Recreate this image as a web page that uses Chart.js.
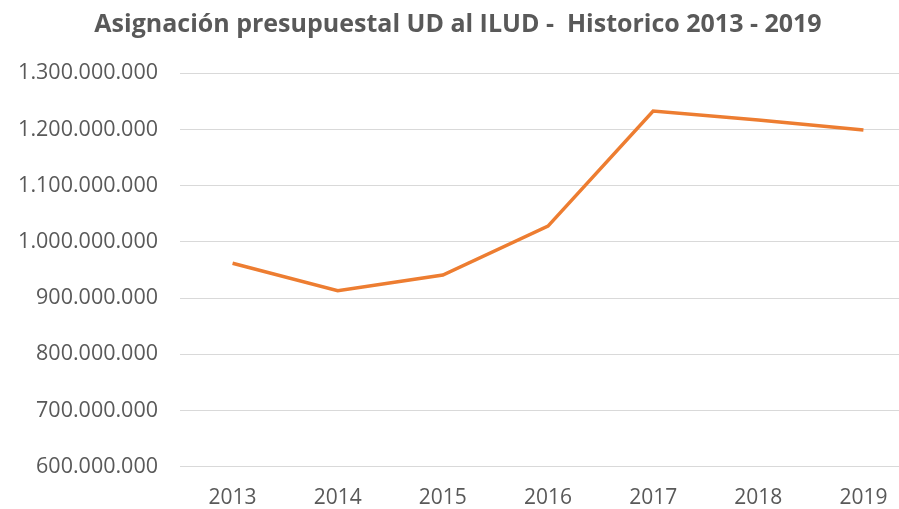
<!DOCTYPE html>
<html>
<head>
<meta charset="utf-8">
<script src="https://cdn.jsdelivr.net/npm/chart.js@4"></script>
<style>
    html, body { margin: 0; padding: 0; background: #fff; overflow: hidden; }
    #wrap { width: 916px; height: 509px; position: relative; }
</style>
</head>
<body>
<div id="wrap"><canvas id="chart"></canvas></div>
<script>
const years = ['2013', '2014', '2015', '2016', '2017', '2018', '2019'];
const budget = [962000000, 913000000, 941000000, 1028000000, 1233000000, 1217000000, 1199000000];
const yTicks = [600000000, 700000000, 800000000, 900000000, 1000000000, 1100000000, 1200000000, 1300000000];

const textColor = '#595959';

function fmt(v) {
    return String(v).replace(/\B(?=(\d{3})+(?!\d))/g, '.');
}

new Chart(document.getElementById('chart').getContext('2d'), {
    type: 'line',
    data: {
        labels: years,
        datasets: [{
            data: budget,
            borderColor: '#ED7D31',
            borderWidth: 3.5,
            pointRadius: 0,
            tension: 0,
            fill: false
        }]
    },
    options: {
        responsive: true,
        maintainAspectRatio: false,
        animation: false,
        layout: { padding: 0 },
        plugins: {
            legend: { display: false },
            tooltip: { enabled: false },
            title: {
                display: true,
                text: 'Asignación presupuestal UD al ILUD -  Historico 2013 - 2019',
                color: textColor,
                font: { family: 'Open Sans', size: 25, weight: 'bold', lineHeight: 1.2 },
                padding: { top: 10, bottom: 33.3 }
            }
        },
        scales: {
            x: {
                offset: true,
                grid: { display: false, drawTicks: false },
                border: { display: false },
                ticks: {
                    color: textColor,
                    font: { family: 'Open Sans', size: 21 },
                    padding: 19,
                    maxRotation: 0
                },
                afterFit: function (s) { s.height = 42.3; }
            },
            y: {
                min: 600000000,
                max: 1300000000,
                afterBuildTicks: function (s) { s.ticks = yTicks.map(v => ({ value: v })); },
                grid: { color: '#D9D9D9', lineWidth: 1, drawTicks: false },
                border: { display: false },
                ticks: {
                    color: textColor,
                    font: { family: 'Open Sans', size: 21.5 },
                    padding: 22,
                    callback: function (v) { return fmt(v); }
                },
                afterFit: function (s) { s.width = 180; }
            }
        }
    }
});
</script>
</body>
</html>
